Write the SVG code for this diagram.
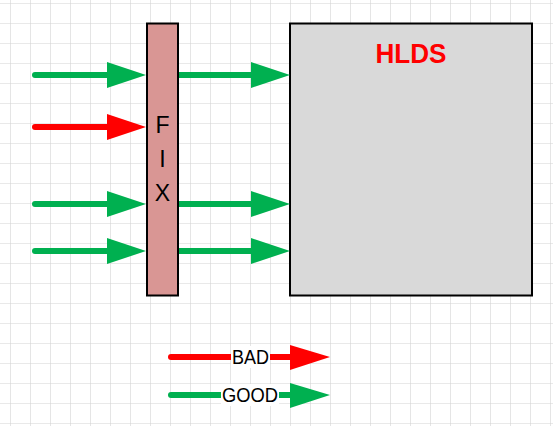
<svg xmlns="http://www.w3.org/2000/svg" width="553" height="426" viewBox="0 0 553 426">
  <defs>
    <pattern id="grid" x="10" y="3" width="20" height="20" patternUnits="userSpaceOnUse">
      <path d="M0 0 H20 M0 0 V20" fill="none" stroke="#d4d4d4" stroke-width="1.2"/>
    </pattern>
  </defs>
  <style>
    .g { stroke: #00b050; }
    .r { stroke: #ff0000; }
    .ln { stroke-width: 6; stroke-linecap: round; fill: none; }
    .hg { fill: #00b050; }
    .hr { fill: #ff0000; }
    .box { stroke: #000; stroke-width: 2; }
    .lbl { font-family: "Liberation Sans", Arial, sans-serif; fill: #000; text-anchor: middle; }
  </style>
  <rect width="553" height="426" fill="#fff"/>
  <rect width="553" height="426" fill="url(#grid)"/>

  <g id="hlds">
    <rect class="box" x="290" y="23.5" width="242" height="272" fill="#d9d9d9"/>
    <text x="411" y="63" font-family="Liberation Sans, Arial, sans-serif" font-weight="bold" font-size="28" fill="#ff0000" text-anchor="middle" textLength="71" lengthAdjust="spacingAndGlyphs">HLDS</text>
  </g>

  <g id="connectors">
    <line class="ln g" x1="35" y1="75" x2="110" y2="75"/>
    <polygon class="hg" points="107,62 146,75 107,88"/>
    <line class="ln r" x1="35" y1="127" x2="110" y2="127"/>
    <polygon class="hr" points="107,114 146,127 107,140"/>
    <line class="ln g" x1="35" y1="204" x2="110" y2="204"/>
    <polygon class="hg" points="107,191 146,204 107,217"/>
    <line class="ln g" x1="35" y1="251" x2="110" y2="251"/>
    <polygon class="hg" points="107,238 146,251 107,264"/>

    <line class="ln g" x1="179" y1="75" x2="254" y2="75"/>
    <polygon class="hg" points="251,62 290,75 251,88"/>
    <line class="ln g" x1="179" y1="204" x2="254" y2="204"/>
    <polygon class="hg" points="251,191 290,204 251,217"/>
    <line class="ln g" x1="179" y1="251" x2="254" y2="251"/>
    <polygon class="hg" points="251,238 290,251 251,264"/>
  </g>

  <g id="fix">
    <rect class="box" x="147" y="23.5" width="31" height="272" fill="#d99694"/>
    <text class="lbl" x="162.5" y="132.5" font-size="23">F</text>
    <text class="lbl" x="162.5" y="166.5" font-size="23">I</text>
    <text class="lbl" x="162.5" y="200.5" font-size="23">X</text>
  </g>

  <g id="legend-bad">
    <line class="ln r" x1="171" y1="357" x2="293" y2="357"/>
    <polygon class="hr" points="290,345 330,357 290,370"/>
    <rect x="231" y="346" width="39" height="22" fill="#fff"/>
    <text class="lbl" x="250.5" y="363.5" font-size="19.5" textLength="37" lengthAdjust="spacingAndGlyphs">BAD</text>
  </g>
  <g id="legend-good">
    <line class="ln g" x1="171" y1="395" x2="293" y2="395"/>
    <polygon class="hg" points="290,383 330,395 290,408"/>
    <rect x="221" y="384" width="58" height="22" fill="#fff"/>
    <text class="lbl" x="250" y="401.5" font-size="19.5" textLength="56" lengthAdjust="spacingAndGlyphs">GOOD</text>
  </g>
</svg>
